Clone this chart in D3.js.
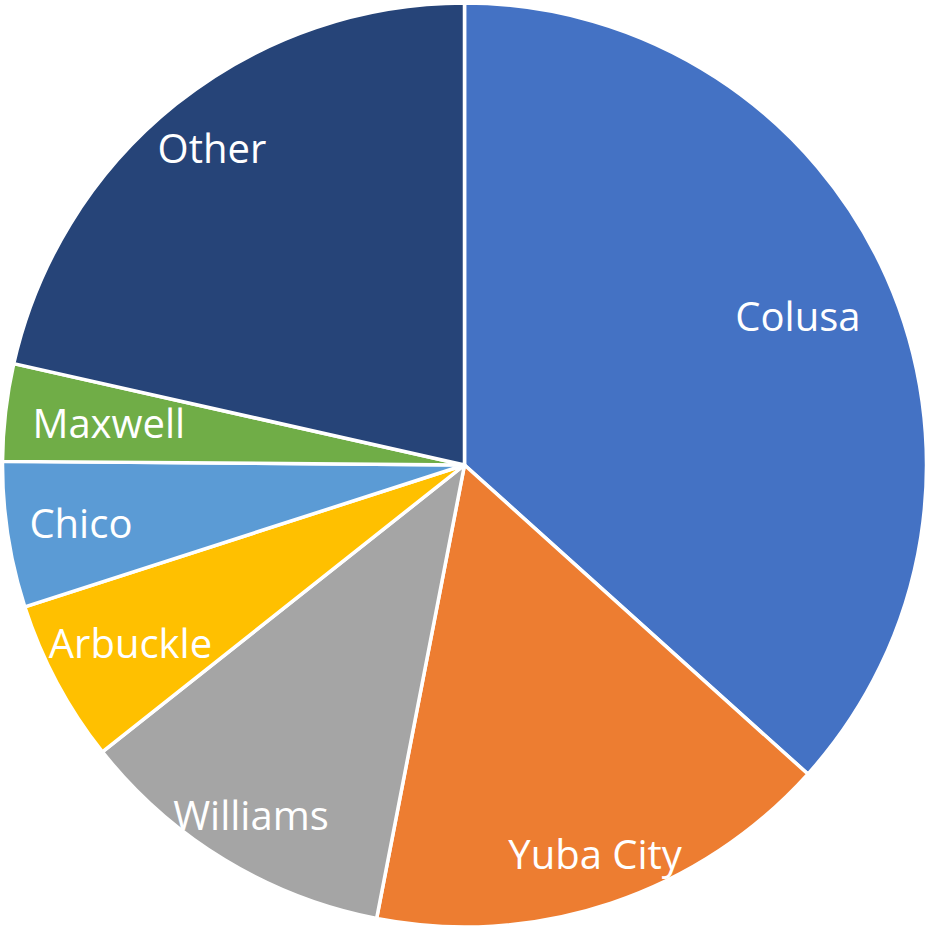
<!DOCTYPE html>
<html>
<head>
<meta charset="utf-8">
<script src="https://cdn.jsdelivr.net/npm/d3@7"></script>
<style>
  html, body { margin: 0; padding: 0; background: #fff; }
  svg { display: block; }
  .label { font-family: "Open Sans", "Noto Sans", sans-serif; font-size: 40px; fill: #fff; }
</style>
</head>
<body>
<div id="chart"></div>
<script>
// Share by town (percent), clockwise from 12 o'clock
const towns  = ['Colusa', 'Yuba City', 'Williams', 'Arbuckle', 'Chico', 'Maxwell', 'Other'];
const shares = [36.7, 16.4, 11.3, 5.7, 5.1, 3.4, 21.5];

// Office palette
const colors = ['#4472C4', '#ED7D31', '#A5A5A5', '#FFC000', '#5B9BD5', '#70AD47', '#264478'];

// Label distance from centre as a fraction of the radius (best-fit look)
const labelRadius = [0.79, 0.89, 0.89, 0.82, 0.84, 0.775, 0.875];

const WIDTH = 930, HEIGHT = 932;
const CX = 464.5, CY = 465, R = 462;

const svg = d3.select('#chart').append('svg')
    .attr('width', WIDTH)
    .attr('height', HEIGHT);

const g = svg.append('g').attr('transform', `translate(${CX},${CY})`);

const color = d3.scaleOrdinal().domain(towns).range(colors);

const pie = d3.pie().sort(null).value(d => d.value);
const arcs = pie(towns.map((t, i) => ({ name: t, value: shares[i], i })));

const arc = d3.arc().innerRadius(0).outerRadius(R);

g.selectAll('path.slice')
    .data(arcs)
    .enter()
    .append('path')
    .attr('class', 'slice')
    .attr('d', arc)
    .attr('fill', d => color(d.data.name))
    .attr('stroke', '#fff')
    .attr('stroke-width', 3.5)
    .attr('stroke-linejoin', 'round');

g.selectAll('text.label')
    .data(arcs)
    .enter()
    .append('text')
    .attr('class', 'label')
    .attr('text-anchor', 'middle')
    .attr('x', d => {
        const a = (d.startAngle + d.endAngle) / 2;
        return Math.sin(a) * R * labelRadius[d.data.i];
    })
    .attr('y', d => {
        const a = (d.startAngle + d.endAngle) / 2;
        return -Math.cos(a) * R * labelRadius[d.data.i] + 14;
    })
    .text(d => d.data.name);
</script>
</body>
</html>
